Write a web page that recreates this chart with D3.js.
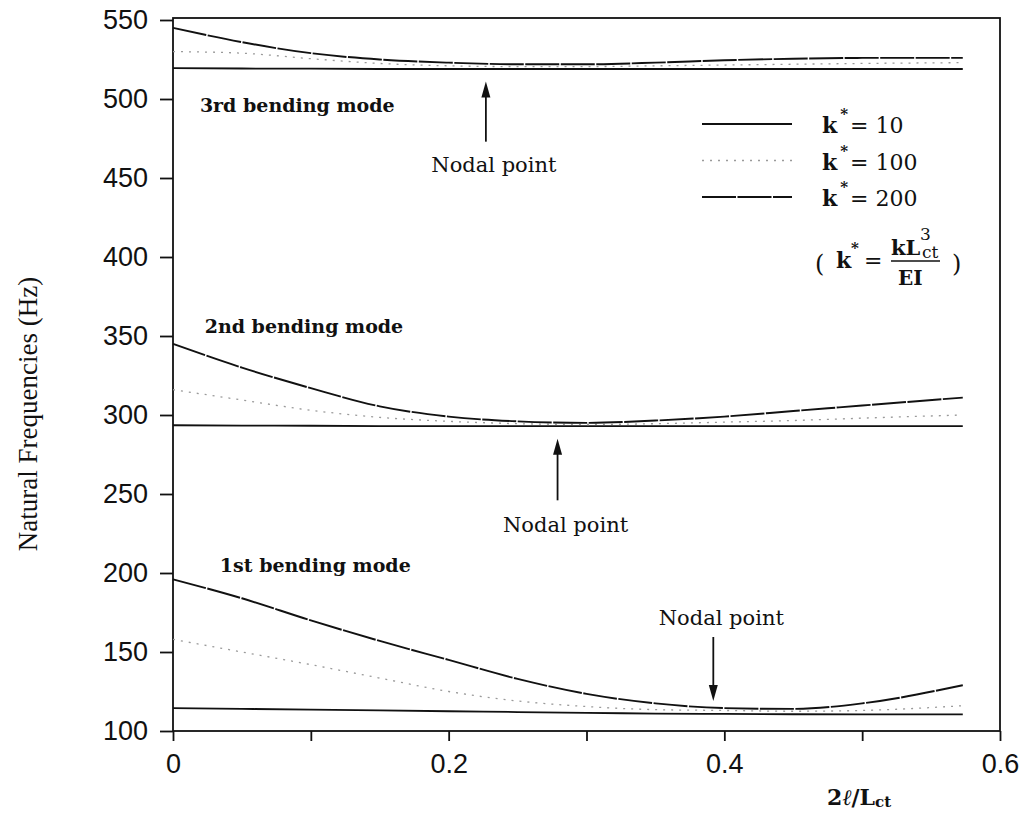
<!DOCTYPE html>
<html>
<head>
<meta charset="utf-8">
<script src="https://cdnjs.cloudflare.com/ajax/libs/d3/7.8.5/d3.min.js"></script>
<style>
  body { margin: 0; background: #fff; }
</style>
</head>
<body>
<div id="chart"></div>
<script>
//Values (x = 2l/Lct, y = natural frequency in Hz)
var xValues = [0, 0.05, 0.1, 0.15, 0.2, 0.25, 0.3, 0.35, 0.4, 0.45, 0.5, 0.573];

var mode1K10  = [114.5, 114, 113.5, 113, 112.5, 112, 111.5, 111, 110.8, 110.6, 110.5, 110.5];
var mode1K100 = [158, 150, 142, 133.5, 125, 119, 115.5, 113.5, 113, 112.5, 113, 116];
var mode1K200 = [196, 184, 170, 157, 145, 133, 123.5, 117.5, 114.5, 114, 117.5, 129];

var mode2K10  = [293.5, 293.3, 293.2, 293, 293, 293, 293, 293, 293, 293, 293, 293];
var mode2K100 = [316, 309.5, 303, 298.5, 296, 294.5, 294, 294.5, 295.5, 296.5, 298, 300];
var mode2K200 = [345, 330, 317, 305.5, 299, 296, 295, 296.5, 299, 302.5, 306, 311];

var mode3K10  = [519.5, 519.3, 519.2, 519, 519, 519, 519, 519, 519, 519, 519, 519];
var mode3K100 = [530, 529, 525.5, 522.5, 521, 520.5, 520.5, 521, 521.5, 522, 522.5, 523];
var mode3K200 = [545, 536, 529, 525, 523, 522, 522, 523, 524.5, 525.5, 526, 526];

var kValues = ["10", "100", "200"];
var yTicks = [100, 150, 200, 250, 300, 350, 400, 450, 500, 550];
var xTicks = [0, 0.1, 0.2, 0.3, 0.4, 0.5, 0.6];
var xTickLabels = ["0", "", "0.2", "", "0.4", "", "0.6"];

var modeNames = ["1st bending mode", "2nd bending mode", "3rd bending mode"];
//where each mode name sits, in data units (x, Hz)
var modeNameAt = [[0.034, 200.6], [0.023, 352], [0.0195, 492]];
//nodal point arrows: x, arrow tail, arrow tip, label baseline (Hz)
var nodalAt = [[0.392, 159.5, 119, 167], [0.279, 246, 285, 226], [0.227, 473, 511, 454]];

var width = 1028;
var height = 813;

var svg = d3.select("#chart")
    .append("svg")
    .attr("width", width)
    .attr("height", height);

var x = d3.scaleLinear().domain([0, 0.6]).range([173, 1000]);
var y = d3.scaleLinear().domain([100, 550]).range([731, 20]);

//line styles for the three stiffness values
var styles = [
    { stroke: "#111", width: 1.8, dash: null },
    { stroke: "#9a9a9a", width: 1.3, dash: "2,6" },
    { stroke: "#111", width: 1.9, dash: "34,1.5" }
];

var series = [
    [mode1K10, mode1K100, mode1K200],
    [mode2K10, mode2K100, mode2K200],
    [mode3K10, mode3K100, mode3K200]
];

var line = d3.line()
    .x(function (d) { return x(d[0]); })
    .y(function (d) { return y(d[1]); })
    .curve(d3.curveMonotoneX);

//frame
svg.append("rect")
    .attr("x", x(0))
    .attr("y", y(550) - 2)
    .attr("width", x(0.6) - x(0))
    .attr("height", y(100) - y(550) + 2)
    .attr("fill", "none")
    .attr("stroke", "#111")
    .attr("stroke-width", 1.8);

//y axis
var yAxis = svg.append("g")
    .attr("transform", "translate(" + x(0) + ",0)")
    .call(d3.axisLeft(y).tickValues(yTicks).tickSize(13).tickPadding(12).tickFormat(d3.format("d")));
yAxis.select(".domain").remove();
yAxis.selectAll("line").attr("stroke", "#111").attr("stroke-width", 1.8);
yAxis.selectAll("text")
    .attr("font-family", "Liberation Sans, Arial, sans-serif")
    .attr("font-size", "27px")
    .attr("fill", "#111");

//x axis
var xAxis = svg.append("g")
    .attr("transform", "translate(0," + y(100) + ")")
    .call(d3.axisBottom(x).tickValues(xTicks).tickSize(10)
        .tickFormat(function (d, i) { return xTickLabels[i]; }));
xAxis.select(".domain").remove();
xAxis.selectAll("line").attr("stroke", "#111").attr("stroke-width", 1.8);
xAxis.selectAll("text")
    .attr("y", 42)
    .attr("dy", 0)
    .attr("font-family", "Liberation Sans, Arial, sans-serif")
    .attr("font-size", "27px")
    .attr("fill", "#111");

//curves
series.forEach(function (mode) {
    mode.forEach(function (vals, k) {
        svg.append("path")
            .datum(xValues.map(function (xv, i) { return [xv, vals[i]]; }))
            .attr("d", line)
            .attr("fill", "none")
            .attr("stroke", styles[k].stroke)
            .attr("stroke-width", styles[k].width)
            .attr("stroke-dasharray", styles[k].dash);
    });
});

//mode names
svg.selectAll("text.mode")
    .data(modeNames)
    .enter()
    .append("text")
    .attr("class", "mode")
    .attr("x", function (d, i) { return x(modeNameAt[i][0]); })
    .attr("y", function (d, i) { return y(modeNameAt[i][1]); })
    .text(function (d) { return d; })
    .attr("font-family", "DejaVu Serif, serif")
    .attr("font-weight", "bold")
    .attr("font-size", "19px")
    .attr("fill", "#111");

//nodal point arrows
nodalAt.forEach(function (n) {
    var px = x(n[0]);
    var tail = y(n[1]);
    var tip = y(n[2]);
    var dir = tip < tail ? 1 : -1;
    svg.append("line")
        .attr("x1", px).attr("x2", px)
        .attr("y1", tail).attr("y2", tip + dir * 10)
        .attr("stroke", "#111")
        .attr("stroke-width", 1.8);
    svg.append("path")
        .attr("d", "M" + px + "," + tip + "L" + (px - 4.5) + "," + (tip + dir * 16) +
            "L" + (px + 4.5) + "," + (tip + dir * 16) + "Z")
        .attr("fill", "#111");
    svg.append("text")
        .attr("x", px + 8)
        .attr("y", y(n[3]))
        .attr("text-anchor", "middle")
        .text("Nodal point")
        .attr("font-family", "DejaVu Serif, serif")
        .attr("font-size", "21px")
        .attr("fill", "#111");
});

//legend
var legend = svg.append("g").attr("transform", "translate(702,124)");
kValues.forEach(function (kv, i) {
    var row = legend.append("g").attr("transform", "translate(0," + (i * 36.5) + ")");
    row.append("line")
        .attr("x1", 0).attr("x2", 90)
        .attr("stroke", styles[i].stroke)
        .attr("stroke-width", styles[i].width)
        .attr("stroke-dasharray", styles[i].dash);
    var t = row.append("text")
        .attr("x", 120)
        .attr("y", 9)
        .attr("font-family", "DejaVu Serif, serif")
        .attr("font-size", "22px")
        .attr("fill", "#111");
    t.append("tspan").attr("font-weight", "bold").text("k");
    t.append("tspan").attr("dx", 3).attr("dy", -14).attr("font-size", "15px").attr("font-weight", "bold").text("*");
    t.append("tspan").attr("dx", 2).attr("dy", 14).text("= " + kv);
});

//definition of k*
var def = svg.append("g")
    .attr("font-family", "DejaVu Serif, serif")
    .attr("fill", "#111");
def.append("text").attr("x", 815).attr("y", 272).attr("font-size", "24px").text("(");
def.append("text").attr("x", 836).attr("y", 268).attr("font-size", "22px").attr("font-weight", "bold").text("k");
def.append("text").attr("x", 851).attr("y", 253).attr("font-size", "15px").attr("font-weight", "bold").text("*");
def.append("text").attr("x", 864).attr("y", 268).attr("font-size", "22px").text("=");
def.append("text").attr("x", 891).attr("y", 255).attr("font-size", "21px").attr("font-weight", "bold").text("kL");
def.append("text").attr("x", 920).attr("y", 240).attr("font-size", "17px").text("3");
def.append("text").attr("x", 922).attr("y", 258).attr("font-size", "17px").text("ct");
def.append("line").attr("x1", 891).attr("x2", 940).attr("y1", 261).attr("y2", 261)
    .attr("stroke", "#111").attr("stroke-width", 1.5);
def.append("text").attr("x", 898).attr("y", 285).attr("font-size", "20px").attr("font-weight", "bold").text("EI");
def.append("text").attr("x", 952).attr("y", 272).attr("font-size", "24px").text(")");

//axis titles
svg.append("text")
    .attr("transform", "translate(37,414) rotate(-90)")
    .attr("text-anchor", "middle")
    .text("Natural Frequencies  (Hz)")
    .attr("font-family", "Liberation Serif, Times New Roman, serif")
    .attr("font-size", "27px")
    .attr("fill", "#111");

var xt = svg.append("text")
    .attr("x", 827)
    .attr("y", 805)
    .attr("font-family", "DejaVu Serif, serif")
    .attr("font-size", "22px")
    .attr("font-weight", "bold")
    .attr("fill", "#111");
xt.append("tspan").text("2");
xt.append("tspan").attr("font-style", "italic").attr("font-weight", "normal").text("ℓ");
xt.append("tspan").text("/L");
xt.append("tspan").attr("font-size", "15px").attr("dy", 2).text("ct");
</script>
</body>
</html>
